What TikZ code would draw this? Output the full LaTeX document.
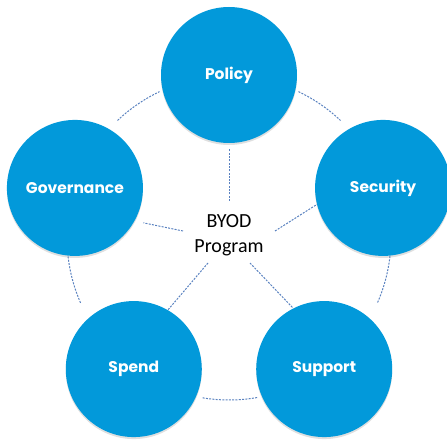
\documentclass[tikz,border=0pt]{standalone}
\usepackage{fontspec}
\setmainfont{Carlito}
\newfontfamily\areafont{Poppins}
\usetikzlibrary{shadows}
\definecolor{areablue}{RGB}{2,153,218}
\definecolor{linkblue}{RGB}{90,130,192}
\begin{document}
\begin{tikzpicture}[x=1pt, y=1pt,
	area/.style={circle, fill=areablue, minimum size=136pt, inner sep=0pt, text=white,
		font=\areafont\bfseries\fontsize{15.5}{18}\selectfont,
		drop shadow={opacity=0.25, shadow xshift=0pt, shadow yshift=-2pt}},
	link/.style={draw=linkblue, line width=1pt, dash pattern=on 2pt off 1.3pt},
	hub/.style={align=center, font=\fontsize{20}{25}\selectfont}]
	\useasboundingbox (0,0) rectangle (447,439);
	\begin{scope}[shift={(229,201)}]
	\coordinate (o) at (0,0);
	\draw[link] (133.5:162) arc[start angle=133.5, end angle=115.4, radius=162];
	\draw[link] (64.6:162) arc[start angle=64.6, end angle=46.5, radius=162];
	\draw[link] (-6.4:162) arc[start angle=-6.4, end angle=-23.6, radius=162];
	\draw[link] (-80:162) arc[start angle=-80, end angle=-99.5, radius=162];
	\draw[link] (203.6:162) arc[start angle=203.6, end angle=186.4, radius=162];
	\node[area] (policy) at (90:163) {Policy};
	\node[area] (security) at (18:162) {Security};
	\node[area] (support) at (-54:162) {Support};
	\node[area] (spend) at (234:162) {Spend};
	\node[area] (governance) at (162:162) {Governance};
	\node[hub] (byod) at (0,3) {BYOD\\Program};
	\coordinate (inpolicy) at (0,37);
	\coordinate (insecurity) at (46,7);
	\coordinate (insupport) at (21,-25);
	\coordinate (inspend) at (-21,-25);
	\coordinate (ingovernance) at (-46,7);
	\end{scope}
	\draw[link, shorten >=6pt] (inpolicy) -- (policy.south);
	\draw[link] (insecurity) -- (security.194);
	\draw[link] (insupport) -- (support.117);
	\draw[link] (inspend) -- (spend.60);
	\draw[link, shorten >=9pt] (ingovernance) -- (governance.331);
\end{tikzpicture}
\end{document}
